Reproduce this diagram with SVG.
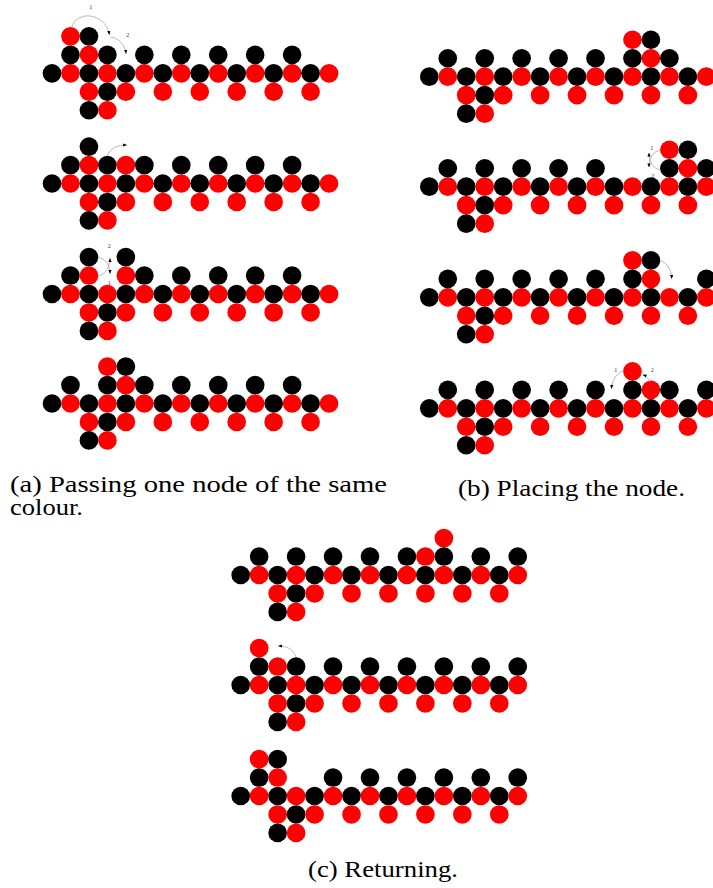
<svg xmlns="http://www.w3.org/2000/svg" xmlns:xlink="http://www.w3.org/1999/xlink" width="713" height="888" viewBox="0 0 713 888">
<style>
.arc{fill:none;stroke:#9a9a9a;stroke-width:0.7}
.lbl{font-family:"Liberation Serif","Times New Roman",serif;font-size:6px;fill:#333;text-anchor:middle}
.cap{font-family:"Liberation Serif","Times New Roman",serif;font-size:23px;fill:#000}
</style>
<defs>
<circle id="K" r="0.505" fill="#000"/>
<circle id="R" r="0.505" fill="#f00"/>
<marker id="ah" markerWidth="4" markerHeight="4" refX="3.6" refY="2" orient="auto" markerUnits="userSpaceOnUse"><path d="M0,0.4 L4,2 L0,3.6 z" fill="#000"/></marker>
<g id="base">
<use href="#K" x="0" y="0"/><use href="#R" x="1" y="0"/><use href="#K" x="2" y="0"/><use href="#R" x="3" y="0"/>
<use href="#K" x="4" y="0"/><use href="#R" x="5" y="0"/><use href="#K" x="6" y="0"/><use href="#R" x="7" y="0"/>
<use href="#K" x="8" y="0"/><use href="#R" x="9" y="0"/><use href="#K" x="10" y="0"/><use href="#R" x="11" y="0"/>
<use href="#K" x="12" y="0"/><use href="#R" x="13" y="0"/><use href="#K" x="14" y="0"/><use href="#R" x="15" y="0"/>
<use href="#R" x="2" y="1"/><use href="#K" x="3" y="1"/><use href="#R" x="4" y="1"/><use href="#R" x="6" y="1"/>
<use href="#R" x="8" y="1"/><use href="#R" x="10" y="1"/><use href="#R" x="12" y="1"/><use href="#R" x="14" y="1"/>
<use href="#K" x="2" y="2"/><use href="#R" x="3" y="2"/>
<use href="#K" x="1" y="-1"/><use href="#K" x="5" y="-1"/><use href="#K" x="7" y="-1"/><use href="#K" x="9" y="-1"/>
</g>
</defs>
<rect width="713" height="888" fill="#fff"/>

<g id="a1" transform="translate(52,73.3) scale(18.47)"><use href="#base"/>
<use href="#R" x="1" y="-2"/><use href="#K" x="2" y="-2"/><use href="#R" x="2" y="-1"/><use href="#K" x="3" y="-1"/><use href="#K" x="11" y="-1"/><use href="#K" x="13" y="-1"/></g>
<g id="a2" transform="translate(52,183.5) scale(18.47)"><use href="#base"/>
<use href="#K" x="2" y="-2"/><use href="#R" x="2" y="-1"/><use href="#K" x="3" y="-1"/><use href="#R" x="4" y="-1"/><use href="#K" x="11" y="-1"/><use href="#K" x="13" y="-1"/></g>
<g id="a3" transform="translate(52,294) scale(18.47)"><use href="#base"/>
<use href="#K" x="2" y="-2"/><use href="#K" x="4" y="-2"/><use href="#R" x="2" y="-1"/><use href="#R" x="4" y="-1"/><use href="#K" x="11" y="-1"/><use href="#K" x="13" y="-1"/></g>
<g id="a4" transform="translate(52,403.5) scale(18.47)"><use href="#base"/>
<use href="#R" x="3" y="-2"/><use href="#K" x="4" y="-2"/><use href="#K" x="3" y="-1"/><use href="#R" x="4" y="-1"/><use href="#K" x="11" y="-1"/><use href="#K" x="13" y="-1"/></g>

<g id="b1" transform="translate(429.3,76.7) scale(18.47)"><use href="#base"/>
<use href="#R" x="11" y="-2"/><use href="#K" x="12" y="-2"/><use href="#K" x="3" y="-1"/><use href="#K" x="11" y="-1"/><use href="#R" x="12" y="-1"/><use href="#K" x="13" y="-1"/></g>
<g id="b2" transform="translate(429.3,186.7) scale(18.47)"><use href="#base"/>
<use href="#R" x="13" y="-2"/><use href="#K" x="14" y="-2"/><use href="#K" x="3" y="-1"/><use href="#K" x="13" y="-1"/><use href="#R" x="14" y="-1"/><use href="#K" x="15" y="-1"/></g>
<g id="b3" transform="translate(429.3,297.3) scale(18.47)"><use href="#base"/>
<use href="#R" x="11" y="-2"/><use href="#K" x="12" y="-2"/><use href="#K" x="3" y="-1"/><use href="#K" x="11" y="-1"/><use href="#R" x="12" y="-1"/><use href="#K" x="15" y="-1"/></g>
<g id="b4" transform="translate(429.3,408.3) scale(18.47)"><use href="#base"/>
<use href="#R" x="11" y="-2"/><use href="#K" x="3" y="-1"/><use href="#K" x="11" y="-1"/><use href="#R" x="12" y="-1"/><use href="#K" x="13" y="-1"/><use href="#K" x="15" y="-1"/></g>

<g id="c1" transform="translate(240.7,575) scale(18.47)"><use href="#base"/>
<use href="#R" x="11" y="-2"/><use href="#K" x="3" y="-1"/><use href="#R" x="10" y="-1"/><use href="#K" x="11" y="-1"/><use href="#K" x="13" y="-1"/><use href="#K" x="15" y="-1"/></g>
<g id="c2" transform="translate(240.7,685) scale(18.47)"><use href="#base"/>
<use href="#R" x="1" y="-2"/><use href="#R" x="2" y="-1"/><use href="#K" x="3" y="-1"/><use href="#K" x="11" y="-1"/><use href="#K" x="13" y="-1"/><use href="#K" x="15" y="-1"/></g>
<g id="c3" transform="translate(240.7,796) scale(18.47)"><use href="#base"/>
<use href="#R" x="1" y="-2"/><use href="#K" x="2" y="-2"/><use href="#R" x="2" y="-1"/><use href="#K" x="11" y="-1"/><use href="#K" x="13" y="-1"/><use href="#K" x="15" y="-1"/></g>

<g id="connectors">
<path class="arc" marker-end="url(#ah)" d="M71.5,27.5 C76,11 104,11 109.5,34.5"/>
<path class="arc" marker-end="url(#ah)" d="M110.5,37 C118,38 125,44 126,53.5"/>
<path class="arc" marker-end="url(#ah)" d="M107.3,156 C110,148 118,145 126.7,145"/>
<path class="arc" marker-end="url(#ah)" d="M98,257.5 C104,258 110,264 110,273.5"/>
<path class="arc" marker-end="url(#ah)" d="M98,276 C104,275 110,268 110,258.5"/>
<path class="arc" marker-end="url(#ah)" d="M660,150.5 C654,151 649,156 649,167"/>
<path class="arc" marker-end="url(#ah)" d="M660,169.5 C654,169 649,163 649,153"/>
<path class="arc" marker-end="url(#ah)" d="M660,260.7 C667,262 671.5,270 671.7,278.5"/>
<path class="arc" marker-end="url(#ah)" d="M624,370.5 C617,372.5 612,380 611.5,388.5"/>
<path class="arc" marker-end="url(#ah)" d="M649.5,382 C648.5,378.5 646.5,376 643,374.8"/>
<path class="arc" marker-end="url(#ah)" d="M296,657 C293,649 287,646 278.3,646"/>
</g>
<g id="labels">
<text class="lbl" x="90.7" y="8.5">1</text>
<text class="lbl" x="127.7" y="36.5">2</text>
<text class="lbl" x="109.3" y="248">2</text>
<text class="lbl" x="109.3" y="285">1</text>
<text class="lbl" x="651.7" y="149.8">1</text>
<text class="lbl" x="652.7" y="177.8">2</text>
<text class="lbl" x="615.7" y="371.5">1</text>
<text class="lbl" x="652.3" y="372">2</text>
</g>
<g id="captions">
<text class="cap" x="10" y="491.7" textLength="377" lengthAdjust="spacingAndGlyphs">(a) Passing one node of the same</text>
<text class="cap" x="10" y="515" textLength="73" lengthAdjust="spacingAndGlyphs">colour.</text>
<text class="cap" x="458" y="496" textLength="227" lengthAdjust="spacingAndGlyphs">(b) Placing the node.</text>
<text class="cap" x="308" y="876.7" textLength="150" lengthAdjust="spacingAndGlyphs">(c) Returning.</text>
</g>
</svg>
